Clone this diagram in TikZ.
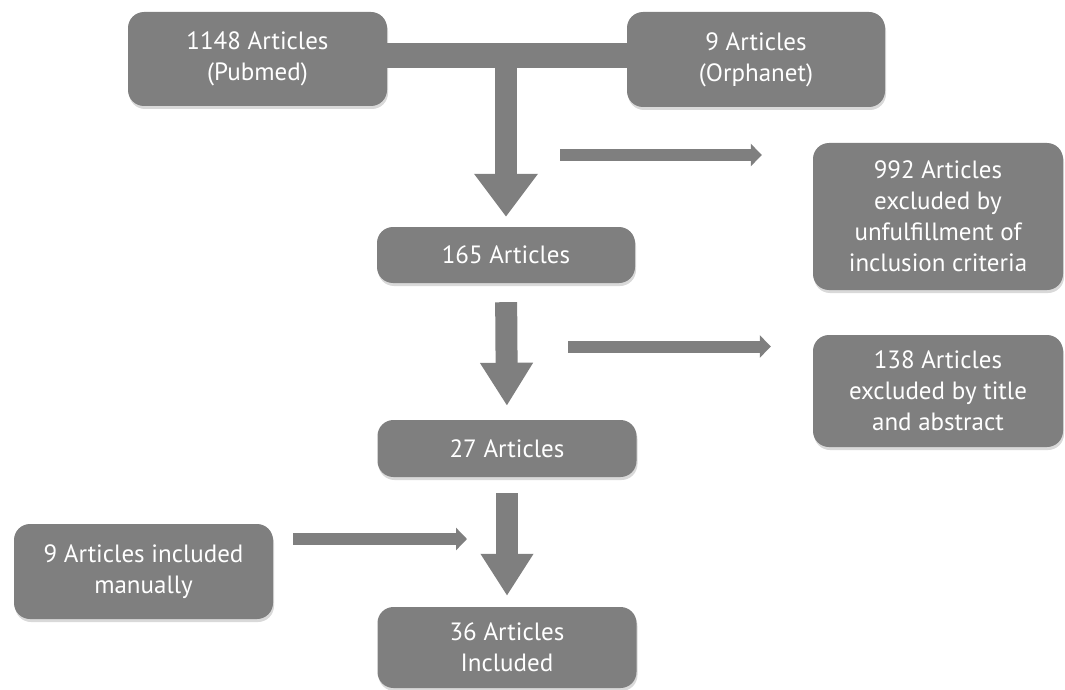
\documentclass[tikz,border=0pt]{standalone}
\usepackage{fontspec}
\setmainfont{PT Sans}
\usetikzlibrary{arrows.meta,shadows}
\definecolor{boxgray}{RGB}{127,127,127}
\pgfdeclarelayer{bg}
\pgfsetlayers{bg,main}

\begin{document}
\begin{tikzpicture}[x=1pt,y=-1pt,font=\fontsize{25}{31}\selectfont,
  box/.style={fill=boxgray,text=white,rounded corners=16pt,align=center,inner sep=0pt,
    drop shadow={opacity=0.3,shadow xshift=1pt,shadow yshift=-3pt}},
  bigarrow/.style={draw=boxgray,line width=22pt,-{Triangle[width=61pt,length=43pt]}},
  smallarrow/.style={draw=boxgray,line width=12pt,-{Triangle[width=22pt,length=11pt]}}]
%\draw[help lines] (0,0) grid (1065,690);
\useasboundingbox (0,0) rectangle (1065,690);
\node (pub) [box,minimum width=259pt,minimum height=94pt] at (257.5,59) {1148 Articles\\(Pubmed)};
\node (orph) [box,minimum width=258pt,minimum height=95pt] at (756,59.5) {9 Articles\\(Orphanet)};
\node (a165) [box,minimum width=258pt,minimum height=56pt] at (506,255) {165 Articles};
\node (ex1) [box,minimum width=250pt,minimum height=147pt] at (938,216.5) {992 Articles\\excluded by\\unfulfillment of\\inclusion criteria};
\node (ex2) [box,minimum width=250pt,minimum height=112pt] at (938,391) {138 Articles\\excluded by title\\and abstract};
\node (a27) [box,minimum width=259pt,minimum height=57pt] at (507,448.5) {27 Articles};
\node (man) [box,minimum width=259pt,minimum height=95pt] at (143.5,571.5) {9 Articles included\\manually};
\node (inc) [box,minimum width=259pt,minimum height=81pt] at (507,647.5) {36 Articles\\Included};
\coordinate (tee) at (506,55.5);
\coordinate (c1) at (560,155);
\coordinate (c2) at (568,346.5);
\coordinate (c3) at (293,539);
\begin{pgfonlayer}{bg}
\draw[boxgray,line width=25pt] (pub.east |- tee) -- (orph.west |- tee);
\path
(tee) edge [bigarrow,shorten >=10pt] (a165.north)
(a165.south) edge [bigarrow,-{Triangle[width=50pt,length=43pt]},shorten <=19pt,shorten >=14pt] (a27.north)
(a27.south) edge [bigarrow,-{Triangle[width=50pt,length=42pt]},shorten <=16pt,shorten >=11pt] (inc.north)
(c1) edge [smallarrow,shorten >=51pt] (c1 -| ex1.west)
(c2) edge [smallarrow,shorten >=42pt] (c2 -| ex2.west)
(c3) edge [smallarrow,shorten >=40pt] (c3 -| a27);
\end{pgfonlayer}
\end{tikzpicture}
\end{document}
